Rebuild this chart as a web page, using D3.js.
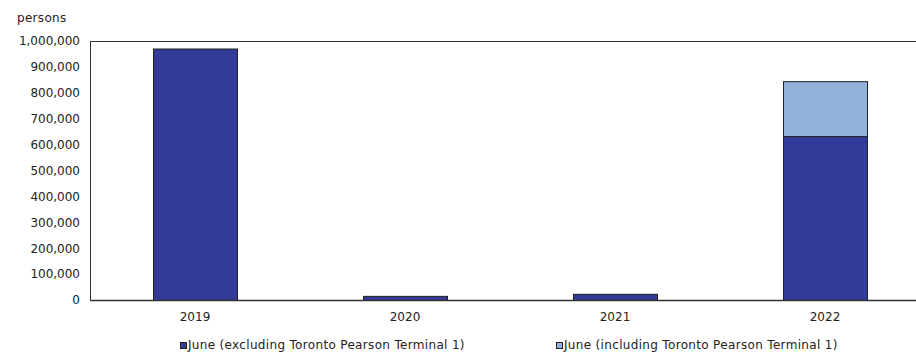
<!DOCTYPE html>
<html><head><meta charset="utf-8">
<script src="https://cdn.jsdelivr.net/npm/d3@7"></script>
<style>
body{margin:0;background:#fff;}
text{font-family:"DejaVu Sans",Verdana,sans-serif;font-size:12px;fill:#222;}
</style></head>
<body><svg id="c" width="916" height="352"></svg>
<script>
const categories = ["2019","2020","2021","2022"];
const excludingT1 = [971000, 16000, 24000, 633000];
const includingT1Extra = [0, 0, 0, 212000];
const yTicks = [0,100000,200000,300000,400000,500000,600000,700000,800000,900000,1000000];
const seriesNames = ["June (excluding Toronto Pearson Terminal 1)","June (including Toronto Pearson Terminal 1)"];
const colors = ["#333a98","#94b1d9"];

const svg = d3.select("#c");
const L = 90, R = 930, T = 41, B = 300;
const x = d3.scaleBand().domain(categories).range([L,R]).paddingInner(0.6).paddingOuter(0.3);
const y = d3.scaleLinear().domain([0,1000000]).range([B,T]);
const fmt = d3.format(",");

const rows = categories.map((c,i)=>({cat:c, s0:excludingT1[i], s1:includingT1Extra[i]}));
const stack = d3.stack().keys(["s0","s1"])(rows);

stack.forEach((layer,k)=>{
  svg.append("g").selectAll("rect").data(layer.filter(d=>d[1]-d[0]>0)).join("rect")
    .attr("x", d=>x(d.data.cat)+0.5)
    .attr("y", d=>y(d[1])+0.5)
    .attr("width", x.bandwidth())
    .attr("height", d=>y(d[0])-y(d[1]))
    .attr("fill", colors[k])
    .attr("stroke","#222")
    .attr("stroke-width",1);
});

// frame lines
svg.append("line").attr("x1",L+0.5).attr("x2",L+0.5).attr("y1",T).attr("y2",B+1).attr("stroke","#333");
svg.append("line").attr("x1",L).attr("x2",R).attr("y1",T+0.5).attr("y2",T+0.5).attr("stroke","#333");
svg.append("line").attr("x1",L).attr("x2",R).attr("y1",B+0.5).attr("y2",B+0.5).attr("stroke","#333").attr("stroke-width",1.5);

// y axis labels
const yAxis = d3.axisLeft(y).tickValues(yTicks).tickFormat(fmt).tickSize(0).tickPadding(10);
const ga = svg.append("g").attr("transform",`translate(${L},0)`).call(yAxis);
ga.select(".domain").remove();
ga.selectAll("text").attr("font-size",null).attr("font-family",null).attr("fill",null);

// x axis labels
const xAxis = d3.axisBottom(x).tickSize(0).tickPadding(12);
const gx = svg.append("g").attr("transform",`translate(0,${B})`).call(xAxis);
gx.select(".domain").remove();
gx.selectAll("text").attr("font-size",null).attr("font-family",null).attr("fill",null);

svg.append("text").attr("x",17).attr("y",22).style("letter-spacing","0.3px").text("persons");

// legend
const legX = [180, 556];
seriesNames.forEach((n,i)=>{
  svg.append("rect").attr("x",legX[i]+0.5).attr("y",342.5).attr("width",6).attr("height",6)
    .attr("fill",colors[i]).attr("stroke","#222");
  svg.append("text").attr("x",legX[i]+8).attr("y",349).style("letter-spacing","0.33px").text(n);
});
</script></body></html>
